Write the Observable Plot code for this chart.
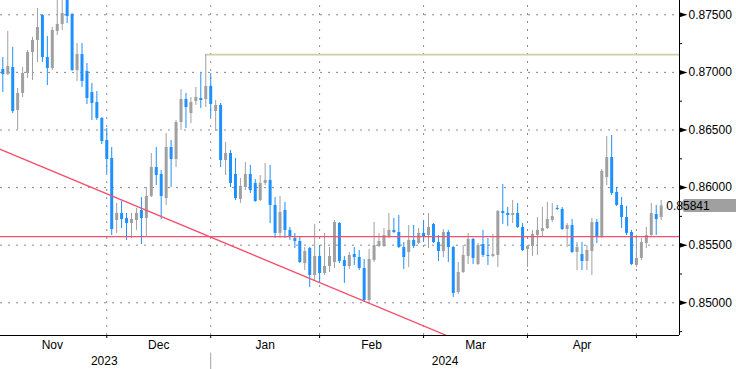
<!DOCTYPE html>
<html><head><meta charset="utf-8">
<script src="https://cdn.jsdelivr.net/npm/d3@7"></script>
<script src="https://cdn.jsdelivr.net/npm/@observablehq/plot@0.6"></script>
<style>html,body{margin:0;padding:0;background:#fff;}svg{display:block;}</style>
</head><body><div id="chart"></div>
<script>
const openP = [0.87025,0.86982,0.87042,0.86669,0.86817,0.86990,0.87173,0.87277,0.87494,0.87129,
0.87034,0.87355,0.87416,0.87650,0.87502,0.87016,0.87155,0.87008,0.86825,0.86739,
0.86600,0.86409,0.86253,0.85714,0.85775,0.85732,0.85688,0.85714,0.85801,0.85732,
0.85923,0.86174,0.86114,0.85905,0.86348,0.86244,0.86565,0.86765,0.86643,0.86747,
0.86773,0.86765,0.86878,0.86661,0.86713,0.86235,0.86296,0.86114,0.85897,0.86001,
0.86114,0.86036,0.85888,0.86036,0.86062,0.85845,0.85602,0.85801,0.85628,0.85558,
0.85532,0.85341,0.85471,0.85237,0.85402,0.85254,0.85315,0.85350,0.85688,0.85367,
0.85315,0.85419,0.85393,0.85298,0.85020,0.85367,0.85489,0.85489,0.85567,0.85628,
0.85610,0.85480,0.85437,0.85541,0.85515,0.85602,0.85584,0.85680,0.85523,0.85445,
0.85610,0.85480,0.85089,0.85263,0.85402,0.85550,0.85332,0.85506,0.85411,0.85402,
0.85411,0.85793,0.85775,0.85758,0.85775,0.85654,0.85463,0.85489,0.85584,0.85619,
0.85645,0.85714,0.85819,0.85810,0.85636,0.85671,0.85437,0.85419,0.85359,0.85445,
0.85697,0.85576,0.86088,0.86261,0.85958,0.85845,0.85740,0.85610,0.85324,0.85385,
0.85515,0.85584,0.85766,0.85740];
const highP = [0.87129,0.87355,0.87216,0.86860,0.87042,0.87190,0.87303,0.87555,0.87502,0.87312,
0.87390,0.87667,0.87711,0.87693,0.87511,0.87251,0.87251,0.87077,0.86904,0.86834,
0.86608,0.86513,0.86348,0.85862,0.85879,0.85775,0.85775,0.85819,0.85914,0.86001,
0.86296,0.86348,0.86148,0.86470,0.86409,0.86582,0.86851,0.86817,0.86782,0.86869,
0.86990,0.87155,0.86990,0.86756,0.86730,0.86391,0.86322,0.86253,0.86079,0.86218,
0.86192,0.86070,0.86105,0.86209,0.86192,0.85914,0.85923,0.85871,0.85654,0.85602,
0.85567,0.85480,0.85480,0.85680,0.85497,0.85602,0.85480,0.85714,0.85697,0.85402,
0.85437,0.85480,0.85454,0.85376,0.85463,0.85697,0.85602,0.85645,0.85775,0.85732,
0.85758,0.85523,0.85671,0.85671,0.85645,0.85714,0.85775,0.85688,0.85584,0.85636,
0.85628,0.85489,0.85350,0.85497,0.85602,0.85558,0.85515,0.85628,0.85558,0.85593,
0.85801,0.86027,0.85827,0.85888,0.85862,0.85688,0.85497,0.85628,0.85740,0.85827,
0.85871,0.85862,0.85845,0.85827,0.85688,0.85723,0.85523,0.85523,0.85497,0.85732,
0.85723,0.86157,0.86444,0.86452,0.86001,0.85914,0.85836,0.85628,0.85584,0.85558,
0.85654,0.85862,0.85845,0.85888];
const lowP = [0.86825,0.86973,0.86643,0.86504,0.86782,0.86947,0.86930,0.87086,0.87086,0.86886,
0.87016,0.87320,0.87364,0.87424,0.87008,0.86921,0.86869,0.86721,0.86582,0.86582,
0.86374,0.86122,0.85584,0.85602,0.85645,0.85541,0.85558,0.85628,0.85506,0.85567,
0.85914,0.86018,0.85723,0.85845,0.86001,0.86174,0.86496,0.86513,0.86556,0.86713,
0.86687,0.86695,0.86608,0.86487,0.86174,0.86105,0.86001,0.85888,0.85862,0.85975,
0.85949,0.85871,0.85879,0.86018,0.85688,0.85558,0.85558,0.85558,0.85541,0.85471,
0.85341,0.85280,0.85133,0.85194,0.85176,0.85237,0.85263,0.85298,0.85341,0.85168,
0.85289,0.85324,0.85280,0.85003,0.85003,0.85350,0.85480,0.85480,0.85558,0.85602,
0.85471,0.85289,0.85306,0.85471,0.85506,0.85523,0.85471,0.85515,0.85359,0.85393,
0.85350,0.85046,0.85072,0.85254,0.85332,0.85332,0.85324,0.85393,0.85324,0.85393,
0.85306,0.85680,0.85662,0.85688,0.85645,0.85445,0.85306,0.85402,0.85411,0.85567,
0.85636,0.85697,0.85801,0.85628,0.85480,0.85428,0.85280,0.85280,0.85280,0.85237,
0.85515,0.85558,0.86018,0.85932,0.85836,0.85645,0.85584,0.85324,0.85306,0.85367,
0.85471,0.85576,0.85584,0.85714];
const closeP = [0.86982,0.87051,0.86661,0.86817,0.86990,0.87173,0.87277,0.87390,0.87129,0.87034,
0.87364,0.87416,0.87511,0.87485,0.87016,0.87155,0.86921,0.86773,0.86730,0.86600,
0.86400,0.86244,0.85636,0.85775,0.85723,0.85688,0.85723,0.85775,0.85732,0.85923,
0.86174,0.86105,0.85923,0.86348,0.86244,0.86565,0.86765,0.86695,0.86739,0.86782,
0.86756,0.86878,0.86721,0.86713,0.86235,0.86296,0.86036,0.85905,0.86010,0.86114,
0.85975,0.85879,0.86036,0.86062,0.85845,0.85602,0.85784,0.85628,0.85567,0.85532,
0.85350,0.85445,0.85237,0.85402,0.85254,0.85315,0.85402,0.85697,0.85359,0.85315,
0.85411,0.85393,0.85298,0.85020,0.85376,0.85497,0.85532,0.85584,0.85628,0.85610,
0.85480,0.85393,0.85541,0.85489,0.85602,0.85567,0.85654,0.85523,0.85445,0.85610,
0.85480,0.85081,0.85263,0.85411,0.85550,0.85385,0.85497,0.85411,0.85402,0.85419,
0.85793,0.85775,0.85758,0.85775,0.85654,0.85454,0.85489,0.85593,0.85628,0.85645,
0.85723,0.85749,0.85810,0.85636,0.85671,0.85437,0.85480,0.85359,0.85454,0.85697,
0.85576,0.86140,0.86261,0.85949,0.85845,0.85740,0.85602,0.85332,0.85385,0.85523,
0.85584,0.85775,0.85723,0.85841];

const monthBounds = [-1, 21, 42, 64, 85, 106, 128];
const monthLabels = ["Nov", "Dec", "Jan", "Feb", "Mar", "Apr"];
const yearLabels = ["2023", "2024"];
const yearBreak = 42;
const yTicks = [0.850, 0.855, 0.860, 0.865, 0.870, 0.875];
const yMinor = [0.8475, 0.8525, 0.8575, 0.8625, 0.8675, 0.8725];
const supportLevel = 0.85575;
const resistanceLevel = 0.87154;
const resistanceStart = 41;
const trendX = [-1, 95];
const trendY = [0.8634, 0.8462];

const xDomain = [-0.465, 136.7];
const yDomain = [0.84716, 0.87624];
const xMax = xDomain[1];
const yMin = yDomain[0];

const candles = openP.map((o, i) => ({i, o, h: highP[i], l: lowP[i], c: closeP[i], up: closeP[i] >= o}));
const BLUE = "#1e90ff", GRAY = "#a0a0a0", RED = "#f4506c", GRID = "#8a8a8a";
const monthMid = monthLabels.map((m, k) => ({m, x: (monthBounds[k] + monthBounds[k + 1]) / 2}));
const yearMid = [{t: yearLabels[0], x: (monthBounds[0] + yearBreak) / 2}, {t: yearLabels[1], x: (yearBreak + xMax) / 2}];
const trend = trendX.map((x, k) => ({x, y: trendY[k]}));
const arrow = {draw(ctx) { ctx.moveTo(0, -2.5); ctx.lineTo(8, 0); ctx.lineTo(0, 2.5); ctx.closePath(); }};
const tickLenX = 0.6, tickLenY = 0.00026;

const chart = Plot.plot({
  width: 736, height: 369,
  marginLeft: 0, marginRight: 57, marginTop: 0, marginBottom: 34,
  x: {domain: xDomain, axis: null},
  y: {domain: yDomain, axis: null},
  style: {background: "#fff", fontFamily: "'Liberation Sans', Arial, sans-serif", fontSize: "12px", color: "#000"},
  marks: [
    Plot.ruleY(yTicks, {y: d => d, x1: xDomain[0], x2: xMax, stroke: GRID, strokeDasharray: "2,6"}),
    Plot.ruleX(monthBounds.slice(1), {x: d => d, y1: yMin, y2: yDomain[1], stroke: GRID, strokeDasharray: "2,6"}),
    Plot.ruleY([resistanceLevel], {y: d => d, x1: resistanceStart, x2: xMax, stroke: "#cdcda8", strokeWidth: 1.6}),
    Plot.ruleX(candles, {x: "i", y1: "l", y2: "h", stroke: d => d.up ? GRAY : BLUE, strokeWidth: 1, clip: true}),
    Plot.ruleX(candles, {x: "i", y1: "o", y2: "c", stroke: d => d.up ? GRAY : BLUE, strokeWidth: 3, clip: true}),
    Plot.ruleY([supportLevel], {y: d => d, x1: xDomain[0], x2: xMax, stroke: RED, strokeWidth: 1.3}),
    Plot.line(trend, {x: "x", y: "y", stroke: RED, strokeWidth: 1.3, clip: true}),
    // axes
    Plot.ruleX([xMax], {x: d => d, y1: yMin, y2: yDomain[1], stroke: "#000"}),
    Plot.ruleY([yMin], {y: d => d, x1: xDomain[0], x2: xMax, stroke: "#000"}),
    Plot.ruleY(yMinor, {y: d => d, x1: xMax, x2: xMax + tickLenX, stroke: "#000"}),
    Plot.dot(yTicks, {x: xMax, y: d => d, symbol: arrow, r: 3, fill: "#000", stroke: null}),
    Plot.text(yTicks, {x: xMax, y: d => d, text: d => d.toFixed(5), dx: 9, textAnchor: "start", fontSize: 12, fill: "#000"}),
    Plot.ruleX(monthBounds.slice(1), {x: d => d, y1: yMin, y2: yMin - tickLenY, stroke: "#000"}),
    Plot.text(monthMid, {x: "x", y: yMin, text: "m", dy: 10, fontSize: 12, fill: "#000"}),
    Plot.text(yearMid, {x: "x", y: yMin, text: "t", dy: 26, fontSize: 12, fill: "#000"}),
    Plot.ruleX([yearBreak], {x: d => d, y1: 0.84563, y2: 0.84400, stroke: "#a0a0a0"})
  ]
});
document.getElementById("chart").appendChild(chart);

const lastClose = closeP[closeP.length - 1];
const ys = chart.scale("y"), xs = chart.scale("x");
const yc = ys.apply(lastClose), xa = xs.apply(xMax);
const svg = d3.select(chart);
svg.append("path")
  .attr("d", `M${xa + 1},${yc} L${xa + 5},${yc - 6.5} L736,${yc - 6.5} L736,${yc + 6.5} L${xa + 5},${yc + 6.5} Z`)
  .attr("fill", "#a0a0a0");
svg.append("text")
  .attr("x", xa + 9).attr("y", yc).attr("dy", "0.36em")
  .attr("font-size", 12).attr("fill", "#000")
  .attr("font-family", "'Liberation Sans', Arial, sans-serif")
  .text(lastClose.toFixed(5));
</script></body></html>
